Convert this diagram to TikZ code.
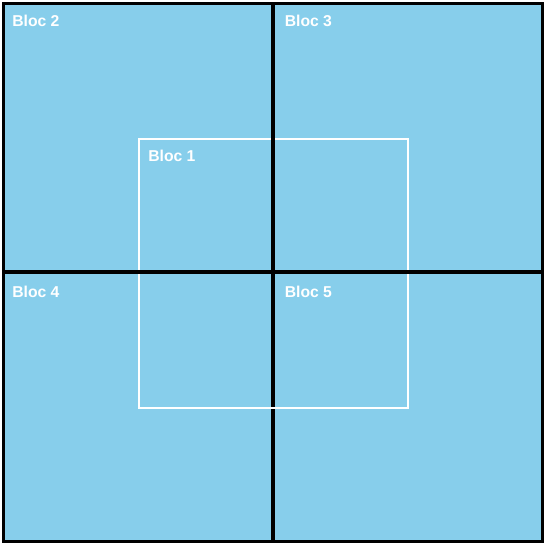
\documentclass[tikz,border=0pt]{standalone}
\usepackage{fontspec}
\setmainfont{Liberation Sans}
\definecolor{skyblue}{RGB}{135,206,235}

\begin{document}
\begin{tikzpicture}[x=0.75pt, y=-0.75pt,
  bloc/.style={font=\bfseries\fontsize{11.8}{14}\selectfont, text=white, anchor=base west, inner sep=0pt}]
  \useasboundingbox (0,0) rectangle (549,545);
  \fill[white] (0,0) rectangle (549,545);
  \fill[skyblue] (3.5,3.5) rectangle (542.5,541.5);

  % bloc 1 (overlapping square)
  \draw[white, line width=1.5pt] (139,139) rectangle (408,407.5);

  % grid of blocs 2 to 5
  \draw[line width=2.6pt] (273,3.5) -- (273,541.5);
  \draw[line width=2.6pt] (3.5,272) -- (542.5,272);
  \draw[line width=1.8pt] (3.5,3.5) rectangle (542.5,541.5);
  \draw[white, line width=1.5pt] (139,407.5) -- (408,407.5);

  \node[bloc] (b2) at (12,26.5) {Bloc 2};
  \node[bloc] (b3) at (284.5,26.5) {Bloc 3};
  \node[bloc] (b1) at (148,161.5) {Bloc 1};
  \node[bloc] (b4) at (12,297.5) {Bloc 4};
  \node[bloc] (b5) at (284.5,297.5) {Bloc 5};
\end{tikzpicture}
\end{document}
